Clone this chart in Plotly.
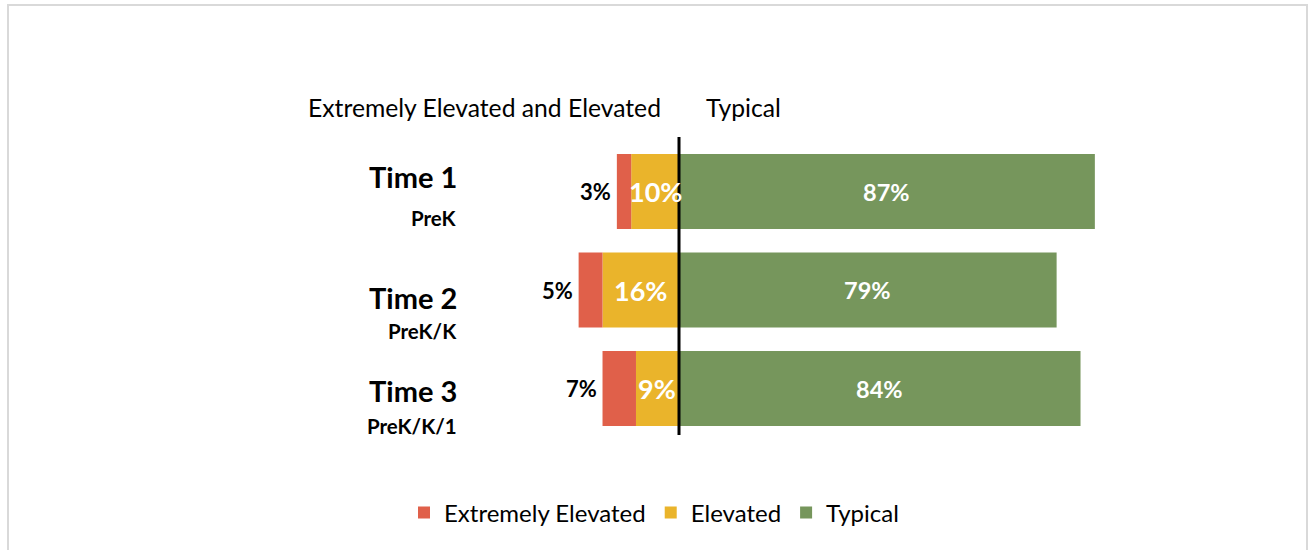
import plotly.graph_objects as go

categories = ["Time 1", "Time 2", "Time 3"]
subcategories = ["PreK", "PreK/K", "PreK/K/1"]
extremely_elevated = [3, 5, 7]
elevated = [10, 16, 9]
typical = [87, 79, 84]

COL_EE = "#E0604A"
COL_EL = "#EAB42B"
COL_TY = "#76965C"
FONT = "Lato"

W, H = 1309, 550
PX_PER_PCT = 4.78
CENTER_PX = 679
Y0_PX, Y_STEP = 191.5, 98.5

ypos = list(range(len(categories)))

fig = go.Figure()
fig.add_trace(go.Bar(y=ypos, x=[-v for v in elevated], orientation="h", name="Elevated",
                     marker=dict(color=COL_EL, line=dict(width=0)), width=0.76,
                     legendrank=2, hoverinfo="skip"))
fig.add_trace(go.Bar(y=ypos, x=[-v for v in extremely_elevated], orientation="h", name="Extremely Elevated",
                     marker=dict(color=COL_EE, line=dict(width=0)), width=0.76,
                     legendrank=1, hoverinfo="skip"))
fig.add_trace(go.Bar(y=ypos, x=typical, orientation="h", name="Typical",
                     marker=dict(color=COL_TY, line=dict(width=0)), width=0.76,
                     legendrank=3, hoverinfo="skip"))

ann = []
for i in ypos:
    ee, el, ty = extremely_elevated[i], elevated[i], typical[i]
    ann.append(dict(x=-(ee + el), y=i, xref="x", yref="y", text=f"<b>{ee}%</b>", showarrow=False,
                    xanchor="right", xshift=-4, font=dict(family=FONT, size=22, color="black")))
    ann.append(dict(x=-el / 2, y=i, xref="x", yref="y", text=f"<b>{el}%</b>", showarrow=False,
                    xanchor="center", font=dict(family=FONT, size=27, color="white")))
    ann.append(dict(x=ty / 2, y=i, xref="x", yref="y", text=f"<b>{ty}%</b>", showarrow=False,
                    xanchor="center", font=dict(family=FONT, size=23.5, color="white")))

# category labels
cat_y = [177, 297, 390]
sub_y = [218, 331, 426]
for c, s, cy, sy in zip(categories, subcategories, cat_y, sub_y):
    ann.append(dict(x=459 / W, y=1 - cy / H, xref="paper", yref="paper", text=f"<b>{c}</b>",
                    showarrow=False, xanchor="right", yanchor="middle",
                    font=dict(family=FONT, size=29, color="black")))
    ann.append(dict(x=459 / W, y=1 - sy / H, xref="paper", yref="paper", text=f"<b>{s}</b>",
                    showarrow=False, xanchor="right", yanchor="middle",
                    font=dict(family=FONT, size=20.5, color="black")))

ann.append(dict(x=663 / W, y=1 - 107 / H, xref="paper", yref="paper", text="Extremely Elevated and Elevated",
                showarrow=False, xanchor="right", yanchor="middle", font=dict(family=FONT, size=24.7, color="black")))
ann.append(dict(x=704 / W, y=1 - 107 / H, xref="paper", yref="paper", text="Typical",
                showarrow=False, xanchor="left", yanchor="middle", font=dict(family=FONT, size=24.7, color="black")))

x_lo = -CENTER_PX / PX_PER_PCT
x_hi = (W - CENTER_PX) / PX_PER_PCT
y_top = -Y0_PX / Y_STEP
y_bot = (H - Y0_PX) / Y_STEP

shapes = [
    dict(type="line", xref="x", yref="y", x0=0, x1=0,
         y0=(137 - Y0_PX) / Y_STEP, y1=(435 - Y0_PX) / Y_STEP,
         line=dict(color="black", width=3)),
    dict(type="rect", xref="paper", yref="paper", x0=8 / W, x1=1307 / W, y0=-0.05, y1=1 - 5 / H,
         line=dict(color="#D9D9D9", width=2), fillcolor="rgba(0,0,0,0)"),
]

fig.update_layout(
    width=W, height=H,
    margin=dict(l=0, r=0, t=0, b=0),
    paper_bgcolor="white", plot_bgcolor="white",
    barmode="relative",
    xaxis=dict(range=[x_lo, x_hi], visible=False, fixedrange=True),
    yaxis=dict(range=[y_bot, y_top], visible=False, fixedrange=True),
    showlegend=True,
    legend=dict(orientation="h", x=654 / W, xanchor="center", y=1 - 513 / H, yanchor="middle",
                font=dict(family=FONT, size=24, color="black"), traceorder="normal",
                itemwidth=30, bgcolor="rgba(0,0,0,0)"),
    annotations=ann,
    shapes=shapes,
)

fig.write_html("out.html", post_script="document.body.style.margin='0';",
               config={"displayModeBar": False})
